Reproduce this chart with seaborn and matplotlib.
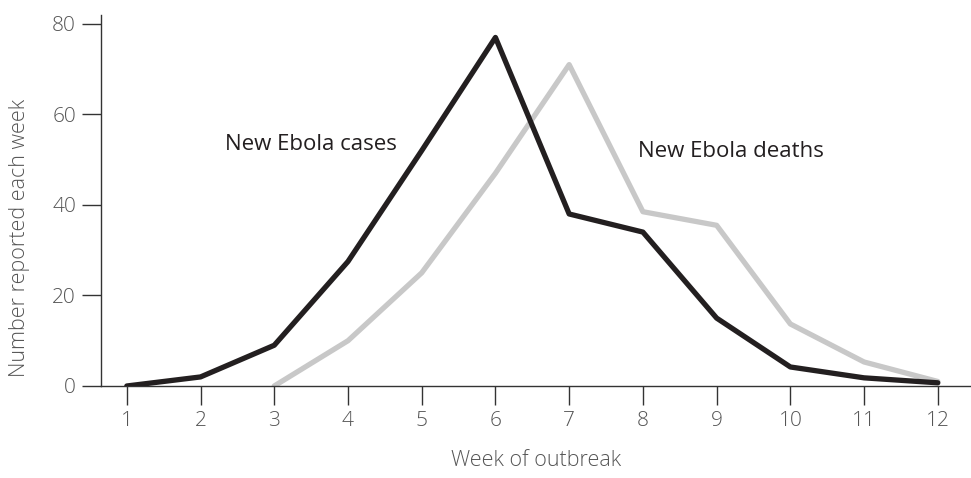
import matplotlib
matplotlib.use("Agg")
import matplotlib.pyplot as plt
import seaborn as sns
import pandas as pd

weeks = [1, 2, 3, 4, 5, 6, 7, 8, 9, 10, 11, 12]
cases = [0, 2, 9, 27.5, 52, 77, 38, 34, 15, 4.2, 1.8, 0.7]
death_weeks = [3, 4, 5, 6, 7, 8, 9, 10, 11, 12]
deaths = [0, 10, 25, 47, 71, 38.5, 35.5, 13.7, 5.3, 1]
y_ticks = [0, 20, 40, 60, 80]

sns.set_theme(style="ticks")
plt.rcParams['font.family'] = ['Open Sans', 'DejaVu Sans']

df = pd.concat([
    pd.DataFrame({"week": weeks, "value": cases, "series": "cases"}),
    pd.DataFrame({"week": death_weeks, "value": deaths, "series": "deaths"}),
])

fig = plt.figure(figsize=(9.71, 4.78), dpi=100)
ax = fig.add_axes([0.104, 0.1925, 0.896, 0.7765])
sns.lineplot(data=df, x="week", y="value", hue="series",
             palette={"cases": "#231f20", "deaths": "#c8c8c8"},
             hue_order=["deaths", "cases"],
             linewidth=3.8, legend=False, ax=ax, sort=False)
for l in ax.lines:
    if l.get_color() == "#231f20":
        l.set_zorder(3)

ax.set_xlim(0.65, 12.45)
ax.set_ylim(0, 82)
ax.set_xticks(weeks)
ax.set_yticks(y_ticks)
for s in ["top", "right"]:
    ax.spines[s].set_visible(False)
for s in ["left", "bottom"]:
    ax.spines[s].set_color("#333333")
    ax.spines[s].set_linewidth(1.0)
ax.tick_params(axis="both", direction="out", length=14, width=1.0,
               color="#333333", labelcolor="#555555", labelsize=15, pad=4)
for lab in ax.get_xticklabels() + ax.get_yticklabels():
    lab.set_fontweight("light")
ax.set_xlabel("Week of outbreak", fontsize=15.5, color="#555555",
              fontweight="light", labelpad=14)
ax.set_ylabel("Number reported each week", fontsize=15.5, color="#555555",
              fontweight="light")
ax.yaxis.set_label_coords(-0.082, 0.40)
ax.text(3.5, 53.3, "New Ebola cases", fontsize=16, color="#231f20",
        ha="center", va="center")
ax.text(9.2, 51.7, "New Ebola deaths", fontsize=16, color="#231f20",
        ha="center", va="center")

fig.savefig("out.png", dpi=100)
